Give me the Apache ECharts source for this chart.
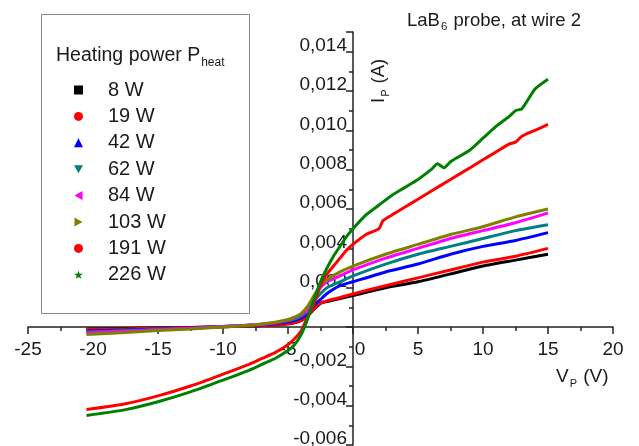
<!DOCTYPE html>
<html>
<head>
<meta charset="utf-8">
<script src="https://cdn.jsdelivr.net/npm/echarts@6/dist/echarts.min.js"></script>
<style>html,body{margin:0;padding:0;background:#fff}#c{width:639px;height:446px}</style>
</head>
<body>
<div id="c"></div>
<script>
// ---- data ----
const seriesNames = ['8 W', '19 W', '42 W', '62 W', '84 W', '103 W', '191 W', '226 W'];
const xTicks = [-25, -20, -15, -10, -5, 0, 5, 10, 15, 20];
const yTicks = [-0.006, -0.004, -0.002, 0, 0.002, 0.004, 0.006, 0.008, 0.010, 0.012, 0.014];

// probe voltage (V) for low-power curves
const vLow = [-20.5, -17.5, -15, -12.5, -10, -7.5, -6, -5, -4.5, -4, -3.5, -3, -2.5, -2, -1, 0, 2.5, 5, 7.5, 10, 12.5, 15];
const i8W   = [-0.0001, -0.00008, -0.00005, -0.00002, 0.00001, 0.00006, 0.0001, 0.00016, 0.00022, 0.00032, 0.00055, 0.0009, 0.0012, 0.0013, 0.00145, 0.0016, 0.0020, 0.0023, 0.0027, 0.0031, 0.0034, 0.0037];
const i19W  = [-0.00012, -0.0001, -0.00006, -0.00003, 0.00001, 0.00006, 0.0001, 0.00017, 0.00023, 0.00033, 0.00056, 0.00092, 0.00122, 0.00133, 0.0015, 0.00168, 0.0021, 0.0025, 0.0029, 0.0033, 0.0036, 0.0040];
const i42W  = [-0.0002, -0.00015, -0.0001, -0.00005, 0.00002, 0.0001, 0.00017, 0.00026, 0.00034, 0.00046, 0.00068, 0.0011, 0.0014, 0.0017, 0.0021, 0.0023, 0.0028, 0.0032, 0.0037, 0.0041, 0.0044, 0.0048];
const i62W  = [-0.00025, -0.00018, -0.00012, -0.00006, 0.00002, 0.00011, 0.0002, 0.00031, 0.0004, 0.00055, 0.0008, 0.0013, 0.0017, 0.0020, 0.0023, 0.0026, 0.0032, 0.0037, 0.0041, 0.0045, 0.0049, 0.0052];
const i84W  = [-0.0003, -0.00022, -0.00014, -0.00007, 0.00002, 0.00012, 0.00022, 0.00035, 0.00046, 0.00062, 0.00088, 0.0015, 0.0020, 0.0023, 0.0026, 0.0029, 0.0035, 0.0040, 0.0045, 0.0049, 0.0053, 0.0058];
const i103W = [-0.00038, -0.00028, -0.00018, -0.0001, 0.0, 0.00012, 0.00024, 0.00038, 0.0005, 0.00068, 0.00105, 0.0016, 0.0021, 0.0024, 0.0028, 0.0031, 0.0037, 0.0042, 0.0047, 0.0051, 0.0056, 0.0060];

// probe voltage (V) for high-power curves
const vRed  = [-20.5, -17.5, -15, -12.5, -10, -8, -7, -6, -5, -4.5, -4, -3.5, -3, -2.5, -2, -1.5, -1, -0.5, 0, 1, 2, 2.3, 3, 4, 5, 6, 7.5, 9, 10, 11, 12, 12.5, 13, 14, 15];
const i191W = [-0.0042, -0.0039, -0.0035, -0.0030, -0.0024, -0.0019, -0.0016, -0.0013, -0.0009, -0.0006, -0.0002, 0.0005, 0.0012, 0.0021, 0.0027, 0.0031, 0.0035, 0.0039, 0.0042, 0.0047, 0.0050, 0.0054, 0.0057, 0.0061, 0.0065, 0.0069, 0.0075, 0.0081, 0.0085, 0.0089, 0.0093, 0.0094, 0.0097, 0.0100, 0.0103];
const vGreen = [-20.5, -17.5, -15, -12.5, -10, -8, -7, -6, -5, -4.5, -4, -3.5, -3, -2.5, -2, -1.5, -1, -0.5, 0, 1, 2, 3, 4, 5, 6, 6.5, 7, 7.5, 9, 10, 11, 12, 12.5, 13, 14, 15];
const i226W = [-0.0045, -0.0042, -0.0038, -0.0033, -0.0027, -0.0022, -0.0019, -0.0016, -0.0012, -0.0009, -0.0004, 0.0004, 0.0014, 0.0023, 0.0030, 0.0036, 0.0041, 0.0046, 0.0050, 0.0057, 0.0062, 0.0067, 0.0071, 0.0075, 0.0080, 0.0083, 0.0081, 0.0084, 0.0090, 0.0096, 0.0102, 0.0107, 0.0110, 0.0111, 0.0121, 0.0126];

const colors = ['#000000', '#ff0000', '#0000ff', '#008080', '#ff00ff', '#808000', '#ff0000', '#008000'];
const icons = ['rect', 'circle', 'triangle',
  'path://M0,0 L10,0 L5,9 Z',
  'path://M10,0 L10,10 L1,5 Z',
  'path://M0,0 L0,10 L9,5 Z',
  'circle',
  'path://M5,0 L6.2,3.6 L10,3.6 L6.9,5.9 L8.1,9.5 L5,7.3 L1.9,9.5 L3.1,5.9 L0,3.6 L3.8,3.6 Z'];

const xs = [vLow, vLow, vLow, vLow, vLow, vLow, vRed, vGreen];
const ys = [i8W, i19W, i42W, i62W, i84W, i103W, i191W, i226W];

const FONT = '"Liberation Sans", Arial, sans-serif';
const TXT = '#1a1a1a';
const FS = 19;

const series = seriesNames.map((n, k) => ({
  name: n,
  type: 'line',
  showSymbol: false,
  symbol: 'none',
  smooth: 0.2,
  color: colors[k],
  lineStyle: { width: 3, color: colors[k] },
  data: xs[k].map((v, j) => [v, ys[k][j]]),
  z: 3 + k
}));

// grid geometry
const GL = 28, GR = 26, GT = 32, GB = 1, W = 639, H = 446;
const xMin = xTicks[0], xMax = xTicks[xTicks.length - 1], yMin = yTicks[0], yMax = 0.015;
const yAxisOffset = -((0 - xMin) / (xMax - xMin)) * (W - GL - GR);
const xAxisOffset = -((0 - yMin) / (yMax - yMin)) * (H - GT - GB);

const chart = echarts.init(document.getElementById('c'));
chart.setOption({
  animation: false,
  backgroundColor: '#fff',
  title: {
    left: 402, top: 5,
    text: '{a|LaB}{s|6}{a| probe, at wire 2}',
    textStyle: {
      fontWeight: 'normal',
      rich: {
        a: { fontSize: 18.5, fontFamily: FONT, color: TXT, lineHeight: 22, fontWeight: 'normal' },
        s: { fontSize: 11.5, fontFamily: FONT, color: TXT, padding: [12, 1, 0, 1], lineHeight: 11, fontWeight: 'normal' }
      }
    }
  },
  grid: { left: GL, right: GR, top: GT, bottom: GB, containLabel: false, outerBoundsMode: 'none' },
  xAxis: {
    type: 'value', min: xMin, max: xMax, interval: 5,
    position: 'bottom', offset: xAxisOffset,
    axisLine: { onZero: false, lineStyle: { color: '#222', width: 1.5 } },
    axisTick: { show: true, length: 7, lineStyle: { color: '#222', width: 1.5 } },
    minorTick: { show: true, splitNumber: 2, length: 4, lineStyle: { color: '#222', width: 1.5 } },
    splitLine: { show: false },
    axisLabel: {
      margin: 13, fontSize: FS, fontFamily: FONT, color: TXT,
      formatter: v => Math.abs(v) < 1e-9 ? '{z|0}' : String(v),
      rich: { z: { fontSize: FS, fontFamily: FONT, color: TXT, padding: [0, 0, 0, 14] } }
    }
  },
  yAxis: {
    type: 'value', min: yMin, max: yMax, interval: 0.002,
    position: 'left', offset: yAxisOffset,
    axisLine: { onZero: false, lineStyle: { color: '#222', width: 1.5 } },
    axisTick: { show: true, length: 7, lineStyle: { color: '#222', width: 1.5 } },
    minorTick: { show: true, splitNumber: 2, length: 4, lineStyle: { color: '#222', width: 1.5 } },
    splitLine: { show: false },
    axisLabel: {
      margin: 6, fontSize: FS, fontFamily: FONT, color: TXT,
      showMaxLabel: false, verticalAlign: 'bottom', lineHeight: 12,
      formatter: v => (Math.abs(v) < 1e-9 || v > 0.0145) ? '' : v.toFixed(3).replace('.', ',')
    }
  },
  legend: {
    orient: 'vertical', left: 69, top: 75,
    itemWidth: 9, itemHeight: 9, itemGap: 6.4,
    textStyle: { fontSize: 20, fontFamily: FONT, color: TXT, lineHeight: 20, padding: [0, 0, 0, 20] },
    data: seriesNames.map((n, k) => ({ name: n, icon: icons[k] }))
  },
  graphic: [
    { type: 'rect', shape: { x: 41.5, y: 14.5, width: 208, height: 299 },
      style: { fill: 'none', stroke: '#8a8a8a', lineWidth: 1 }, z: 10 },
    { type: 'text', x: 56, y: 45, z: 10,
      style: { text: '{a|Heating power P}{s|heat}', rich: {
        a: { fontSize: 19.5, fontFamily: FONT, fill: TXT, lineHeight: 22 },
        s: { fontSize: 12, fontFamily: FONT, fill: TXT, padding: [14, 0, 0, 1], lineHeight: 12 } } } },
    { type: 'text', x: 368, y: 103, rotation: Math.PI / 2, z: 10,
      style: { text: '{a|I}{s|P}{a| (A)}', rich: {
        a: { fontSize: 18.5, fontFamily: FONT, fill: TXT, lineHeight: 22 },
        s: { fontSize: 11, fontFamily: FONT, fill: TXT, padding: [13, 1, 0, 1], lineHeight: 11 } } } },
    { type: 'text', x: 556, y: 366, z: 10,
      style: { text: '{a|V}{s|P}{a| (V)}', rich: {
        a: { fontSize: 19, fontFamily: FONT, fill: TXT, lineHeight: 22 },
        s: { fontSize: 11, fontFamily: FONT, fill: TXT, padding: [13, 1, 0, 1], lineHeight: 11 } } } }
  ],
  series: series
});
</script>
</body>
</html>
